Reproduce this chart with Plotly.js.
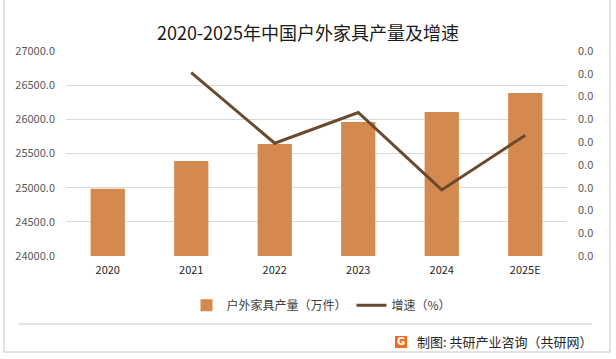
<!DOCTYPE html>
<html>
<head>
<meta charset="utf-8">
<script src="https://cdn.plot.ly/plotly-3.0.1.min.js"></script>
<style>html,body{margin:0;padding:0;background:#fff;}#chart{width:616px;height:359px;}</style>
</head>
<body>
<div id="chart"></div>
<script>
var years = ["2020", "2021", "2022", "2023", "2024", "2025E"];
var output = [24985, 25391, 25640, 25962, 26108, 26386];
var growth = [null, 0.0161, 0.0099, 0.0126, 0.0058, 0.0106];
var leftTicks = [24000, 24500, 25000, 25500, 26000, 26500, 27000];

var font = "'Noto Sans CJK SC', 'Noto Sans', sans-serif";

var traces = [
  {
    type: 'bar', x: years, y: output, name: '户外家具产量（万件）',
    marker: {color: '#D48A4E'}, yaxis: 'y', hoverinfo: 'x+y'
  },
  {
    type: 'scatter', mode: 'lines', x: years, y: growth, name: '增速（%）',
    line: {color: '#6A4A2F', width: 3}, yaxis: 'y2', connectgaps: false
  }
];

var layout = {
  width: 616, height: 359,
  margin: {l: 66, r: 49, t: 51, b: 103},
  paper_bgcolor: '#ffffff', plot_bgcolor: '#ffffff',
  font: {family: font, color: '#595959', size: 11},
  title: {text: '2020-2025年中国户外家具产量及增速', font: {family: font, size: 18, color: '#1a1a1a'}, x: 0.5, xanchor: 'center', y: 0.905, yanchor: 'middle'},
  bargap: 0.59,
  showlegend: true,
  legend: {orientation: 'h', x: 0.51, xanchor: 'center', y: -0.24, yanchor: 'middle', font: {size: 12, color: '#404040'}, traceorder: 'normal', itemwidth: 30},
  xaxis: {type: 'category', showgrid: false, showline: false, ticks: '', tickfont: {size: 11, color: '#262626'}, ticklabelstandoff: 6},
  yaxis: {range: [24000, 27000], tickvals: leftTicks, tickformat: '.1f', showgrid: true, gridcolor: '#D9D9D9', gridwidth: 1, zeroline: false, showline: false, ticks: '', tickfont: {size: 11, color: '#595959'}, ticklabelstandoff: 10},
  yaxis2: {range: [0, 0.018], dtick: 0.002, tick0: 0, tickformat: '.1f', overlaying: 'y', side: 'right', showgrid: false, zeroline: false, showline: false, ticks: '', tickfont: {size: 11, color: '#595959'}, ticklabelstandoff: 10},
  shapes: [
    {type: 'rect', xref: 'paper', yref: 'paper', xsizemode: 'pixel', ysizemode: 'pixel', xanchor: 0, yanchor: 0,
     x0: -62, x1: 544, y0: -96, y1: 298, line: {color: '#D9D9D9', width: 1.5}, fillcolor: 'rgba(0,0,0,0)'},
    {type: 'line', xref: 'paper', yref: 'paper', xsizemode: 'pixel', ysizemode: 'pixel', xanchor: 0, yanchor: 0,
     x0: -48, x1: 526, y0: -68, y1: -68, line: {color: '#D9D9D9', width: 1.5}},
    {type: 'rect', xref: 'paper', yref: 'paper', xsizemode: 'pixel', ysizemode: 'pixel', xanchor: 0, yanchor: 0,
     x0: 329, x1: 341, y0: -92, y1: -80, line: {width: 0}, fillcolor: '#F26B21'}
  ],
  annotations: [
    {xref: 'paper', yref: 'paper', x: 1.056, y: -0.417, xanchor: 'right', yanchor: 'middle', showarrow: false,
     text: '制图: 共研产业咨询（共研网）', font: {size: 13, color: '#262626'}},
    {xref: 'paper', yref: 'paper', x: 0.669, y: -0.419, xanchor: 'center', yanchor: 'middle', showarrow: false,
     text: '<b>G</b>', font: {size: 10, color: '#ffffff', family: 'DejaVu Sans'}}
  ]
};

Plotly.newPlot('chart', traces, layout, {displayModeBar: false, staticPlot: true});
</script>
</body>
</html>
